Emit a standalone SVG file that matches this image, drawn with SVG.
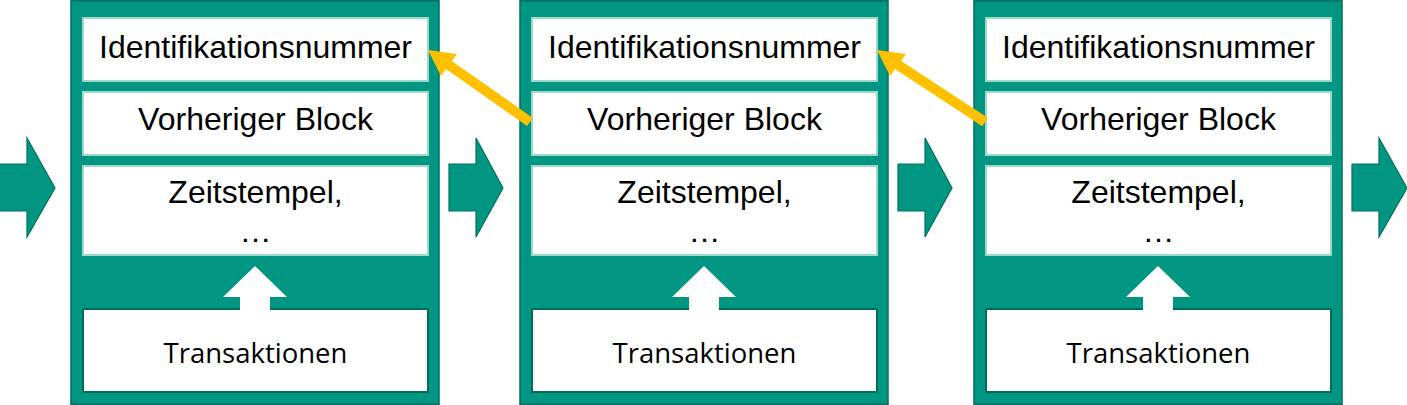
<svg xmlns="http://www.w3.org/2000/svg" width="1407" height="405" viewBox="0 0 1407 405">
<defs>
<style>
.outer{fill:#009682;stroke:#006f5f;stroke-width:1.5}
.box{fill:#ffffff;stroke:#9dd9c9;stroke-width:2}
.tbox{fill:#ffffff;stroke:#006b5a;stroke-width:2}
.sarrow{fill:#009682;stroke:#00705f;stroke-width:1.2}
.uarrow{fill:#ffffff}
.t{font-family:"Liberation Sans",Arial,sans-serif;font-size:32px;fill:#000;text-anchor:middle}
.tt{font-family:"Open Sans","Noto Sans",sans-serif;font-size:27.5px;fill:#000;text-anchor:middle}
.yl{stroke:#ffc000;stroke-width:10;fill:none}
.yh{fill:#ffc000}
</style>
</defs>
<g id="block1">
<rect class="outer" x="71" y="0.75" width="368" height="403.5"/>
<rect class="box" x="83" y="18" width="345" height="63"/>
<rect class="box" x="83" y="92" width="345" height="63"/>
<rect class="box" x="83" y="166" width="345" height="89"/>
<rect class="tbox" x="83" y="309" width="345" height="83"/>
<path class="uarrow" d="M255 266 L287 297 L270 297 L270 311 L240 311 L240 297 L223 297 Z"/>
<text class="t" x="255.5" y="57.5">Identifikationsnummer</text>
<text class="t" x="255.5" y="130">Vorheriger Block</text>
<text class="t" x="255.5" y="203">Zeitstempel,</text>
<text class="t" x="255.5" y="242">…</text>
<text class="tt" x="255.5" y="363">Transaktionen</text>
</g>
<g id="block2">
<rect class="outer" x="520" y="0.75" width="368" height="403.5"/>
<rect class="box" x="532" y="18" width="345" height="63"/>
<rect class="box" x="532" y="92" width="345" height="63"/>
<rect class="box" x="532" y="166" width="345" height="89"/>
<rect class="tbox" x="532" y="309" width="345" height="83"/>
<path class="uarrow" d="M704 266 L736 297 L719 297 L719 311 L689 311 L689 297 L672 297 Z"/>
<text class="t" x="704.5" y="57.5">Identifikationsnummer</text>
<text class="t" x="704.5" y="130">Vorheriger Block</text>
<text class="t" x="704.5" y="203">Zeitstempel,</text>
<text class="t" x="704.5" y="242">…</text>
<text class="tt" x="704.5" y="363">Transaktionen</text>
</g>
<g id="block3">
<rect class="outer" x="974" y="0.75" width="368" height="403.5"/>
<rect class="box" x="986" y="18" width="345" height="63"/>
<rect class="box" x="986" y="92" width="345" height="63"/>
<rect class="box" x="986" y="166" width="345" height="89"/>
<rect class="tbox" x="986" y="309" width="345" height="83"/>
<path class="uarrow" d="M1158 266 L1190 297 L1173 297 L1173 311 L1143 311 L1143 297 L1126 297 Z"/>
<text class="t" x="1158.5" y="57.5">Identifikationsnummer</text>
<text class="t" x="1158.5" y="130">Vorheriger Block</text>
<text class="t" x="1158.5" y="203">Zeitstempel,</text>
<text class="t" x="1158.5" y="242">…</text>
<text class="tt" x="1158.5" y="363">Transaktionen</text>
</g>
<g id="connectors">
<path class="sarrow" d="M-1 164 L27 164 L27 138 L55 188 L27 237 L27 211 L-1 211 Z"/>
<path class="sarrow" d="M449 164 L476 164 L476 138 L503 188 L476 237 L476 211 L449 211 Z"/>
<path class="sarrow" d="M898 164 L925 164 L925 138 L952 188 L925 237 L925 211 L898 211 Z"/>
<path class="sarrow" d="M1352 164 L1379 164 L1379 138 L1407 188 L1379 237 L1379 211 L1352 211 Z"/>
<line class="yl" x1="530" y1="122" x2="446" y2="63"/>
<path class="yh" d="M428 50 L457 54 L441 76 Z"/>
<line class="yl" x1="985" y1="122" x2="895" y2="63"/>
<path class="yh" d="M877 50 L906 54 L890 76 Z"/>
</g>
</svg>
